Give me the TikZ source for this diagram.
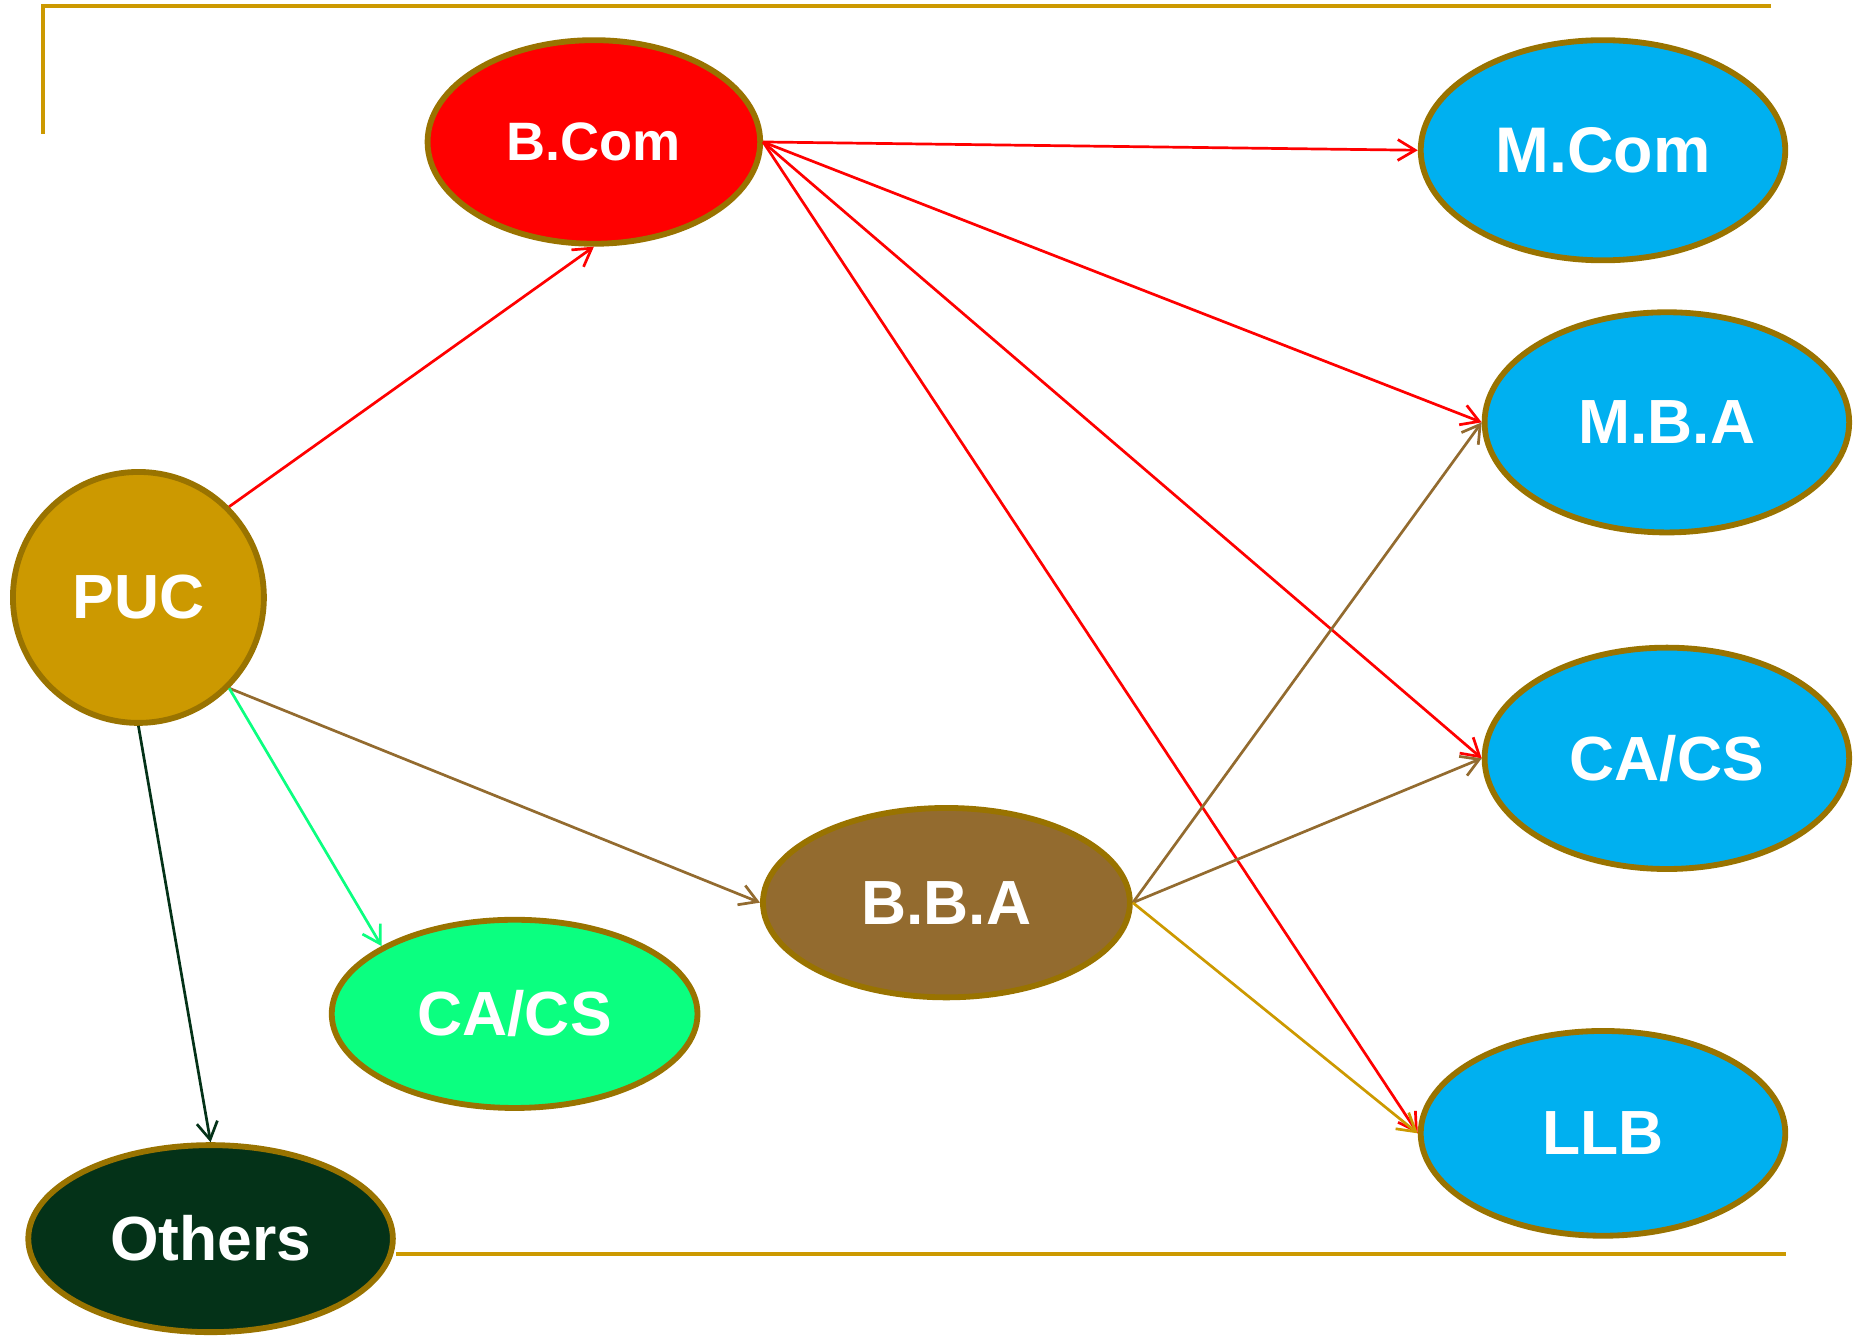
\documentclass[tikz,border=0pt]{standalone}
\usepackage{fontspec}
\setmainfont{Liberation Sans}
\usetikzlibrary{shapes.geometric,arrows.meta}

\definecolor{puccol}{HTML}{CC9900}
\definecolor{rim}{HTML}{997300}
\definecolor{bcomcol}{HTML}{FF0000}
\definecolor{mastercol}{HTML}{00B0F0}
\definecolor{bbacol}{HTML}{936B2F}
\definecolor{cacol}{HTML}{0BFF80}
\definecolor{othercol}{HTML}{043218}

\tikzstyle{degree} = [ellipse,draw=rim,line width=1.4pt,inner sep=0pt,text=white,font=\bfseries\fontsize{15}{18}\selectfont]
\tikzstyle{link} = [line width=0.65pt,-{Straight Barb[length=4.2pt,width=5pt]}]

\begin{document}
\begin{tikzpicture}[x=0.01cm,y=-0.01cm]
	\useasboundingbox (0,0) rectangle (1568,1133);
	\draw[puccol,line width=1pt] (36,113) -- (36,5) -- (1497,5);
	\draw[puccol,line width=1pt] (335,1060) -- (1510,1060);
	\node[degree,circle,fill=puccol,minimum size=2.12cm] (puc) at (117,505) {PUC};
	\node[degree,fill=bcomcol,minimum width=2.81cm,minimum height=1.72cm,font=\bfseries\fontsize{13}{16}\selectfont] (bcom) at (502,120) {B.Com};
	\node[degree,fill=mastercol,minimum width=3.08cm,minimum height=1.86cm,font=\bfseries\fontsize{15.5}{18}\selectfont] (mcom) at (1355,127) {M.Com};
	\node[degree,fill=mastercol,minimum width=3.08cm,minimum height=1.86cm] (mba) at (1409,357) {M.B.A};
	\node[degree,fill=mastercol,minimum width=3.08cm,minimum height=1.87cm] (cacs) at (1409,641) {CA/CS};
	\node[degree,fill=mastercol,minimum width=3.08cm,minimum height=1.73cm] (llb) at (1355,958) {LLB};
	\node[degree,fill=bbacol,minimum width=3.10cm,minimum height=1.60cm] (bba) at (800,763) {B.B.A};
	\node[degree,fill=cacol,minimum width=3.09cm,minimum height=1.59cm] (cagreen) at (435,857) {CA/CS};
	\node[degree,fill=othercol,minimum width=3.08cm,minimum height=1.58cm] (others) at (178,1047) {Others};
	% from PUC
	\draw[link,bcomcol] (puc.north east) -- (bcom.south);
	\draw[link,bbacol] (puc.south east) -- (bba.west);
	\draw[link,cacol] (puc.south east) -- (cagreen.153);
	\draw[link,othercol] (puc.south) -- (others.north);
	% from B.Com
	\draw[link,bcomcol] (bcom.east) -- (mcom.west);
	\draw[link,bcomcol] (bcom.east) -- (mba.west);
	\draw[link,bcomcol] (bcom.east) -- (cacs.west);
	\draw[link,bcomcol] (bcom.east) -- (llb.west);
	% from B.B.A
	\draw[link,bbacol] (bba.east) -- (mba.west);
	\draw[link,bbacol] (bba.east) -- (cacs.west);
	\draw[link,puccol] (bba.east) -- (llb.west);
\end{tikzpicture}
\end{document}
